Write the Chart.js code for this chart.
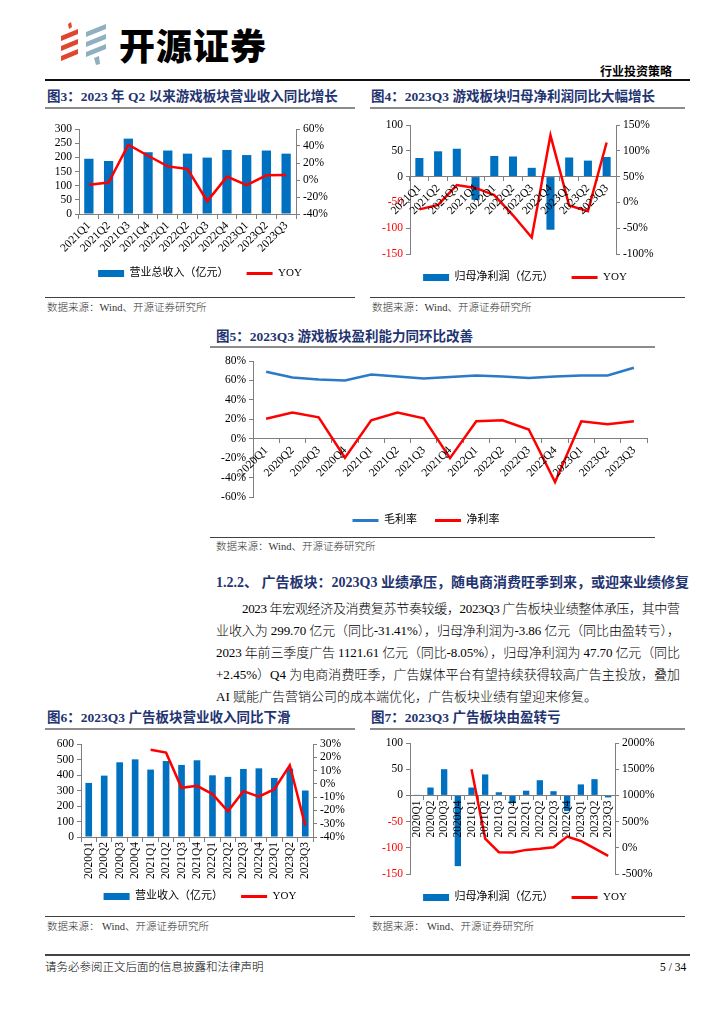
<!DOCTYPE html>
<html>
<head>
<meta charset="utf-8">
<script src="https://cdn.jsdelivr.net/npm/chart.js@4.4.0/dist/chart.umd.min.js"></script>
<style>
  body { margin: 0; width: 724px; height: 1024px; background: #fff; position: relative; overflow: hidden;
         font-family: "Liberation Serif", "Noto Sans CJK SC", serif; color: #000; }
  .abs { position: absolute; white-space: nowrap; }
  .title { position: absolute; white-space: nowrap; font-weight: bold; font-size: 13.5px; color: #1f3471; line-height: 16px; }
  .rule { position: absolute; height: 2px; background: #8c8c8c; }
  .srule { position: absolute; height: 1px; background: #404040; }
  .src { position: absolute; white-space: nowrap; font-size: 10.5px; color: #333; line-height: 12px; font-weight: 300; }
  .line { position: absolute; white-space: nowrap; font-size: 13px; line-height: 16px; font-weight: 300; }
  canvas { position: absolute; }
</style>
</head>
<body>

<!-- 页眉 -->
<svg class="abs" style="left:58px;top:22px" width="54" height="44" viewBox="0 0 54 44">
  <g fill="#e0452f">
    <polygon points="10,2 13,0 14,5 11,7"/>
    <polygon points="3,14 20,7 20,12 3,19"/>
    <polygon points="3,24 20,17 20,22 3,29"/>
    <polygon points="3,34 20,27 20,32 3,39"/>
  </g>
  <g fill="#8fb0c0">
    <polygon points="28,10 48,2 48,7 28,15"/>
    <polygon points="28,20 48,12 48,17 28,25"/>
    <polygon points="28,30 48,22 48,27 28,35"/>
    <polygon points="36,36 41,34 42,42 38,43"/>
  </g>
</svg>
<div class="abs" style="left:119px;top:22px;font-family:'Noto Sans CJK SC';font-weight:900;font-size:36px;line-height:44px;letter-spacing:1px;">开源证券</div>
<div class="abs" style="left:600px;top:64px;font-family:'Noto Sans CJK SC';font-weight:bold;font-size:12px;line-height:14px;">行业投资策略</div>
<div class="abs" style="left:45px;top:79px;width:645px;height:2px;background:#111;"></div>

<!-- 图3 / 图4 -->
<div class="title" style="left:47px;top:89px;">图3：2023 年 Q2 以来游戏板块营业收入同比增长</div>
<div class="rule" style="left:45px;top:107px;width:310px;"></div>
<div class="title" style="left:371px;top:89px;">图4：2023Q3 游戏板块归母净利润同比大幅增长</div>
<div class="rule" style="left:370px;top:107px;width:315px;"></div>
<canvas id="c3" width="310" height="174" style="left:45px;top:115px;"></canvas>
<canvas id="c4" width="320" height="182" style="left:365px;top:111px;"></canvas>
<div class="srule" style="left:45px;top:297px;width:310px;"></div>
<div class="src" style="left:47px;top:302px;">数据来源：Wind、开源证券研究所</div>
<div class="srule" style="left:370px;top:297px;width:315px;"></div>
<div class="src" style="left:372px;top:302px;">数据来源：Wind、开源证券研究所</div>

<!-- 图5 -->
<div class="title" style="left:216px;top:329px;">图5：2023Q3 游戏板块盈利能力同环比改善</div>
<div class="rule" style="left:210px;top:346px;width:445px;"></div>
<canvas id="c5" width="455" height="186" style="left:205px;top:350px;"></canvas>
<div class="srule" style="left:210px;top:537px;width:445px;"></div>
<div class="src" style="left:216px;top:541px;">数据来源：Wind、开源证券研究所</div>

<!-- 正文 -->
<div class="abs" style="left:216px;top:575px;font-weight:bold;font-size:14px;line-height:16px;color:#1f3471;">1.2.2、 广告板块：2023Q3 业绩承压，随电商消费旺季到来，或迎来业绩修复</div>
<div class="line fit" data-w="438" style="left:242px;top:601px;">2023 年宏观经济及消费复苏节奏较缓，2023Q3 广告板块业绩整体承压，其中营</div>
<div class="line fit" data-w="464" style="left:216px;top:623px;">业收入为 299.70 亿元（同比-31.41%），归母净利润为-3.86 亿元（同比由盈转亏），</div>
<div class="line fit" data-w="464" style="left:216px;top:645px;">2023 年前三季度广告 1121.61 亿元（同比-8.05%），归母净利润为 47.70 亿元（同比</div>
<div class="line fit" data-w="464" style="left:216px;top:667px;">+2.45%）Q4 为电商消费旺季，广告媒体平台有望持续获得较高广告主投放，叠加</div>
<div class="line" style="left:216px;top:689px;">AI 赋能广告营销公司的成本端优化，广告板块业绩有望迎来修复。</div>

<!-- 图6 / 图7 -->
<div class="title" style="left:47px;top:710px;">图6：2023Q3 广告板块营业收入同比下滑</div>
<div class="rule" style="left:45px;top:728px;width:310px;"></div>
<div class="title" style="left:371px;top:710px;">图7：2023Q3 广告板块由盈转亏</div>
<div class="rule" style="left:370px;top:728px;width:315px;"></div>
<canvas id="c6" width="310" height="180" style="left:45px;top:732px;"></canvas>
<canvas id="c7" width="320" height="182" style="left:365px;top:731px;"></canvas>
<div class="srule" style="left:45px;top:916px;width:310px;"></div>
<div class="src" style="left:47px;top:921px;">数据来源： Wind、开源证券研究所</div>
<div class="srule" style="left:370px;top:916px;width:315px;"></div>
<div class="src" style="left:372px;top:921px;">数据来源： Wind、开源证券研究所</div>

<!-- 页脚 -->
<div class="abs" style="left:45px;top:954px;width:645px;height:2px;background:#444;"></div>
<div class="abs" style="left:45px;top:960px;font-size:11.5px;line-height:14px;font-weight:300;">请务必参阅正文后面的信息披露和法律声明</div>
<div class="abs" style="left:660px;top:960px;font-size:11.5px;line-height:14px;">5 / 34</div>

<script>
// 游戏板块（2021Q1-2023Q3）
const gameQuarters = ['2021Q1', '2021Q2', '2021Q3', '2021Q4', '2022Q1', '2022Q2', '2022Q3', '2022Q4', '2023Q1', '2023Q2', '2023Q3'];
const gameRevenue = [195, 187, 266, 218, 224, 213, 199, 226, 208, 224, 213];
const gameRevenueYoy = [-5.5, -3, 41.5, 28.5, 16, 13, -25, 4, -6, 5.5, 6];
const gameProfit = [36, 49, 54, -45, 40, 39, 17, -103, 37, 31, 38];
const gameProfitYoy = [-13.5, -5, 33.5, 28, 14, -25, -68, 130, -6, -17, 116];

// 游戏板块毛利率 / 净利率（2020Q1-2023Q3）
const marginQuarters = ['2020Q1', '2020Q2', '2020Q3', '2020Q4', '2021Q1', '2021Q2', '2021Q3', '2021Q4', '2022Q1', '2022Q2', '2022Q3', '2022Q4', '2023Q1', '2023Q2', '2023Q3'];
const grossMargin = [69, 63, 61, 60, 66, 64, 62, 63.5, 65, 64, 62.5, 64, 65, 65, 73];
const netMargin = [20.5, 27, 22, -19.5, 19, 27, 21, -20, 18, 19, 9.5, -44.5, 18, 15, 18];

// 广告板块（2020Q1-2023Q3）
const adQuarters = ['2020Q1', '2020Q2', '2020Q3', '2020Q4', '2021Q1', '2021Q2', '2021Q3', '2021Q4', '2022Q1', '2022Q2', '2022Q3', '2022Q4', '2023Q1', '2023Q2', '2023Q3'];
const adRevenue = [349, 396, 482, 501, 435, 490, 465, 495, 398, 388, 439, 443, 381, 441, 300];
const adRevenueYoy = [null, null, null, null, 25.7, 23.5, -3, -1.5, -7.7, -20.7, -5.5, -9.7, -4, 14, -31.4];
const adProfit = [0.5, 15, 50, -135, 15, 40, 6, -15, 9, 29, 8, -30, 21, 31, -3.86];
const adProfitYoy = [null, null, null, null, 1500, 176, -85, -90, -40, -20, 10, 215, 130, -10, -155];

// 正文每行两端对齐
document.querySelectorAll('.fit').forEach(el => {
  const target = +el.dataset.w;
  const n = el.textContent.length;
  const w = el.getBoundingClientRect().width;
  el.style.letterSpacing = ((target - w) / (n - 1)) + 'px';
});

Chart.defaults.font.family = '"Liberation Serif", "Noto Sans CJK SC", serif';
Chart.defaults.font.size = 11.5;
Chart.defaults.color = '#000';
Chart.defaults.animation = false;
Chart.defaults.events = [];
Chart.defaults.plugins.tooltip.enabled = false;

const AXIS = '#7f7f7f';
const BLUE = '#0070c0';
const RED = '#ff0000';
const pct = v => v + '%';

function yAxis(pos, min, max, step, width, fmt, negRed) {
  return {
    position: pos, min: min, max: max,
    ticks: {
      stepSize: step, padding: 3, callback: fmt, autoSkip: false,
      color: negRed ? (c => c.tick.value < 0 ? RED : '#000') : '#000'
    },
    grid: { drawOnChartArea: false, drawTicks: true, tickLength: 4, color: AXIS },
    border: { color: AXIS },
    afterFit: s => { s.width = width; }
  };
}

// x 轴挂在 y=0 处（不占版面），下方空白由一个不画任何东西的占位轴撑开
function xAxis(rot) {
  return {
    position: { y: 0 },
    offset: true,
    ticks: { minRotation: rot, maxRotation: rot, autoSkip: false, padding: 1, z: 1 },
    grid: { drawOnChartArea: false, tickLength: 4, color: AXIS, offset: true },
    border: { color: AXIS }
  };
}
function spacer(height) {
  return {
    position: 'bottom',
    ticks: { display: false },
    grid: { display: false },
    border: { display: false },
    afterFit: s => { s.height = height; }
  };
}

function legend() {
  return {
    position: 'bottom',
    labels: {
      usePointStyle: true, pointStyleWidth: 26, boxHeight: 7, padding: 18,
      font: { size: 11 }, color: '#000',
      sort: (a, b) => a.datasetIndex - b.datasetIndex,
      generateLabels: chart => Chart.defaults.plugins.legend.labels.generateLabels(chart).map(l => {
        const ds = chart.data.datasets[l.datasetIndex];
        if (ds.type === 'line') {
          l.pointStyle = 'line';
          l.strokeStyle = ds.borderColor;
          l.lineWidth = 3;
        } else {
          l.pointStyle = 'rect';
          l.fillStyle = ds.backgroundColor;
          l.lineWidth = 0;
        }
        return l;
      })
    }
  };
}

function barSet(label, data, pctWidth) {
  return { type: 'bar', label: label, data: data, backgroundColor: BLUE, barPercentage: pctWidth,
           categoryPercentage: 1, xAxisID: 'x', yAxisID: 'y', order: 1 };
}
function lineSet(label, data, color, axis) {
  return { type: 'line', label: label, data: data, borderColor: color, backgroundColor: color,
           borderWidth: 2.5, pointRadius: 0, tension: 0, xAxisID: 'x', yAxisID: axis, order: 0 };
}

// 图3
new Chart(document.getElementById('c3'), {
  type: 'bar',
  data: {
    labels: gameQuarters,
    datasets: [barSet('营业总收入（亿元）', gameRevenue, 0.47), lineSet('YOY', gameRevenueYoy, RED, 'y1')]
  },
  options: {
    responsive: false,
    layout: { padding: { top: 14, left: 0, right: 0, bottom: 0 } },
    scales: {
      x: xAxis(45),
      xs: spacer(36),
      y: yAxis('left', 0, 300, 50, 34),
      y1: yAxis('right', -40, 60, 20, 59, pct)
    },
    plugins: { legend: legend() }
  }
});

// 图4
new Chart(document.getElementById('c4'), {
  type: 'bar',
  data: {
    labels: gameQuarters,
    datasets: [barSet('归母净利润（亿元）', gameProfit, 0.43), lineSet('YOY', gameProfitYoy, RED, 'y1')]
  },
  options: {
    responsive: false,
    layout: { padding: { top: 14, left: 0, right: 0, bottom: 0 } },
    scales: {
      x: xAxis(45),
      y: yAxis('left', -150, 100, 50, 45, undefined, true),
      y1: yAxis('right', -100, 150, 50, 69, pct)
    },
    plugins: { legend: legend() }
  }
});

// 图5
new Chart(document.getElementById('c5'), {
  type: 'line',
  data: {
    labels: marginQuarters,
    datasets: [lineSet('毛利率', grossMargin, '#2a7ac8', 'y'), lineSet('净利率', netMargin, RED, 'y')]
  },
  options: {
    responsive: false,
    layout: { padding: { top: 11, left: 0, right: 13, bottom: 0 } },
    scales: {
      x: xAxis(45),
      y: yAxis('left', -60, 80, 20, 48, pct)
    },
    plugins: { legend: legend() }
  }
});

// 图6
new Chart(document.getElementById('c6'), {
  type: 'bar',
  data: {
    labels: adQuarters,
    datasets: [barSet('营业收入（亿元）', adRevenue, 0.43), lineSet('YOY', adRevenueYoy, RED, 'y1')]
  },
  options: {
    responsive: false,
    layout: { padding: { top: 12, left: 0, right: 0, bottom: 0 } },
    scales: {
      x: xAxis(90),
      xs: spacer(36),
      y: yAxis('left', 0, 600, 100, 36),
      y1: yAxis('right', -40, 30, 10, 42, pct)
    },
    plugins: { legend: legend() }
  }
});

// 图7
new Chart(document.getElementById('c7'), {
  type: 'bar',
  data: {
    labels: adQuarters,
    datasets: [barSet('归母净利润（亿元）', adProfit, 0.46), lineSet('YOY', adProfitYoy, RED, 'y1')]
  },
  options: {
    responsive: false,
    layout: { padding: { top: 12, left: 0, right: 0, bottom: 0 } },
    scales: {
      x: xAxis(90),
      y: yAxis('left', -150, 100, 50, 45, undefined, true),
      y1: yAxis('right', -500, 2000, 500, 70, pct)
    },
    plugins: { legend: legend() }
  }
});
</script>
</body>
</html>
